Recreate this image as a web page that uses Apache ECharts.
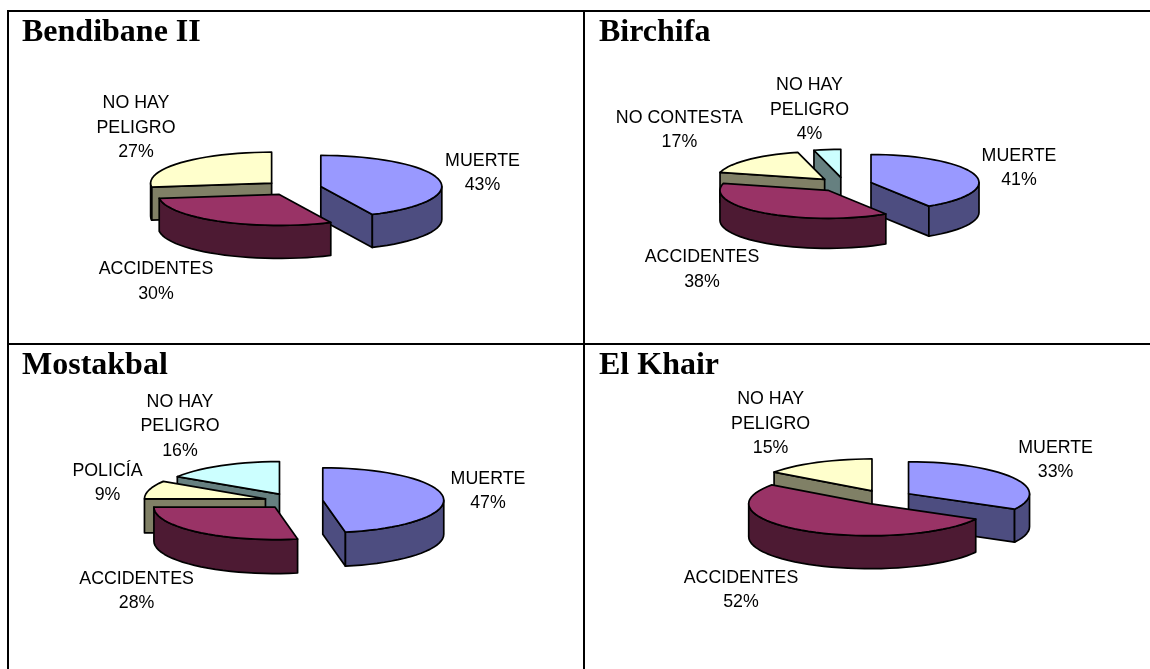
<!DOCTYPE html>
<html>
<head>
<meta charset="utf-8">
<title>Peligros</title>
<style>
  html, body { margin: 0; padding: 0; background: #fff; }
  #chart { width: 1150px; height: 669px; }
</style>
<script src="https://cdn.jsdelivr.net/npm/echarts@6/dist/echarts.min.js"></script>
</head>
<body>
<div id="chart"></div>
<script>
// values, in percent
const bendibaneNames = ['MUERTE', 'ACCIDENTES', 'NO HAY\nPELIGRO']
const bendibaneValues = [43, 30, 27]
const birchifaNames = ['MUERTE', 'ACCIDENTES', 'NO CONTESTA', 'NO HAY\nPELIGRO']
const birchifaValues = [41, 38, 17, 4]
const mostakbalNames = ['MUERTE', 'ACCIDENTES', 'POLICÍA', 'NO HAY\nPELIGRO']
const mostakbalValues = [47, 28, 9, 16]
const elKhairNames = ['MUERTE', 'ACCIDENTES', 'NO HAY\nPELIGRO']
const elKhairValues = [33, 52, 15]

const topColors = ['#9999ff', '#993366', '#ffffcc', '#ccffff']
const sideColors = ['#4d4d80', '#4d1a33', '#808066', '#668080']

// layout of each cell: pie center, radii, thickness, explosion and label centers
const cells = [
    {title: 'Bendibane II', left: 22, top: 17, cx: 293, cy: 188, rx: 121, ry: 31, depth: 33, explode: 28.5,
     names: bendibaneNames, values: bendibaneValues,
     labels: [[482.5, 173], [156, 281.5], [136, 128]]},
    {title: 'Birchifa', left: 599, top: 17, cx: 844.3, cy: 184.5, rx: 108, ry: 28, depth: 30, explode: 27.8,
     names: birchifaNames, values: birchifaValues,
     labels: [[1019, 168], [702, 269.5], [679.4, 130], [809.5, 110]]},
    {title: 'Mostakbal', left: 22, top: 350, cx: 293.6, cy: 501, rx: 121, ry: 32.5, depth: 34, explode: 29.3,
     names: mostakbalNames, values: mostakbalValues,
     labels: [[488, 491], [136.6, 591], [107.5, 483], [180, 426.5]]},
    {title: 'El Khair', left: 599, top: 350, cx: 884.6, cy: 497.5, rx: 121, ry: 32, depth: 33, explode: 27.8,
     names: elKhairNames, values: elKhairValues,
     labels: [[1055.6, 460], [741, 590], [770.6, 424]]}
]

const rad = Math.PI / 180

// point on the rim of the squashed pie, angle clockwise from twelve o'clock
function rim(cell, ox, oy, deg, drop) {
    return [ox + cell.rx * Math.sin(deg * rad), oy - cell.ry * Math.cos(deg * rad) + drop]
}

function arcPoints(cell, ox, oy, from, to, drop) {
    let pts = []
    let steps = Math.max(1, Math.round((to - from) / 4))
    for (let i = 0; i <= steps; i++) {
        pts.push(rim(cell, ox, oy, from + (to - from) * i / steps, drop))
    }
    return pts
}

function face(points, fill, z2) {
    return {
        type: 'polygon',
        z2: z2,
        shape: {points: points},
        style: {fill: fill, stroke: '#000', lineWidth: 1.7, lineJoin: 'round'}
    }
}

function cutFace(cell, ox, oy, deg, fill, z2) {
    let p = rim(cell, ox, oy, deg, 0)
    let q = rim(cell, ox, oy, deg, cell.depth)
    return face([[ox, oy], p, q, [ox, oy + cell.depth]], fill, z2)
}

function renderSlice(cell) {
    let total = cell.values.reduce((a, b) => a + b, 0)
    let mids = []
    let sum = 0
    cell.values.forEach((v) => {
        mids.push((sum + v / 2) / total * 360)
        sum += v
    })
    // back slices get painted first
    let order = mids.map((m, i) => i).sort((a, b) => Math.cos(mids[b] * rad) - Math.cos(mids[a] * rad))

    return function (params, api) {
        let i = params.dataIndex
        let before = cell.values.slice(0, i).reduce((a, b) => a + b, 0)
        let a = before / total * 360
        let b = (before + api.value(0)) / total * 360
        let mid = (a + b) / 2
        let ox = cell.cx + cell.explode * Math.sin(mid * rad)
        let oy = cell.cy - cell.explode * cell.ry / cell.rx * Math.cos(mid * rad)
        let z = (order.indexOf(i) + 1) * 10
        let children = []

        if (Math.sin(a * rad) < -0.001) children.push(cutFace(cell, ox, oy, a, sideColors[i], z))
        if (Math.sin(b * rad) > 0.001) children.push(cutFace(cell, ox, oy, b, sideColors[i], z))

        let from = Math.max(a, 90)
        let to = Math.min(b, 270)
        if (to > from) {
            let wall = arcPoints(cell, ox, oy, from, to, 0)
                .concat(arcPoints(cell, ox, oy, from, to, cell.depth).reverse())
            children.push(face(wall, sideColors[i], z + 1))
        }

        children.push(face([[ox, oy]].concat(arcPoints(cell, ox, oy, a, b, 0)), topColors[i], z + 2))

        children.push({
            type: 'text',
            z2: 100,
            style: {
                x: cell.labels[i][0],
                y: cell.labels[i][1],
                text: cell.names[i] + '\n' + api.value(0) + '%',
                align: 'center',
                verticalAlign: 'middle',
                fill: '#000',
                font: '17.8px "Liberation Sans"',
                lineHeight: 24.5
            }
        })
        return {type: 'group', children: children}
    }
}

function rule(x1, y1, x2, y2) {
    return {
        type: 'line',
        shape: {x1: x1, y1: y1, x2: x2, y2: y2},
        style: {stroke: '#000', lineWidth: 2}
    }
}

let chart = echarts.init(document.getElementById('chart'), null, {renderer: 'canvas'})

let option = {
    animation: false,
    backgroundColor: '#fff',
    title: cells.map((c) => ({
        text: c.title,
        left: c.left,
        top: c.top,
        padding: 0,
        textStyle: {fontFamily: 'Liberation Serif', fontWeight: 'bold', fontSize: 32, color: '#000'}
    })),
    graphic: [
        rule(7, 11, 1150, 11),
        rule(7, 344, 1150, 344),
        rule(8, 10, 8, 669),
        rule(584, 10, 584, 669)
    ],
    series: cells.map((c) => ({
        type: 'custom',
        coordinateSystem: 'none',
        silent: true,
        data: c.values.map((v) => [v]),
        renderItem: renderSlice(c)
    }))
}

chart.setOption(option)
</script>
</body>
</html>
